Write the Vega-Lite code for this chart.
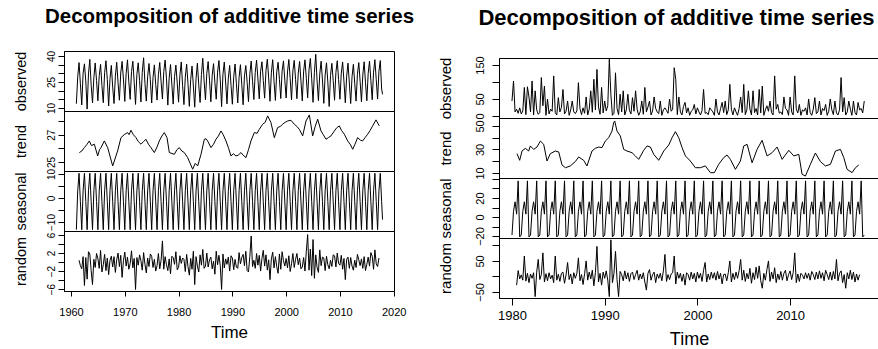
{
"$schema":"https://vega.github.io/schema/vega-lite/v6.json",
"background":"white",
"padding":{"left":12,"top":7,"right":0,"bottom":0},
"datasets":{
"L":[
{"t":1961,"o":12.5,"s":-13.2},{"t":1961.25,"o":28,"s":3},{"t":1961.5,"o":36.2,"s":10.3,"r":0.4},{"t":1961.75,"o":24,"s":-1.5,"r":-0.8},
{"t":1962,"o":11.8,"s":-13.2,"r":-1.5},{"t":1962.25,"o":30.1,"s":3,"r":1.2},{"t":1962.5,"o":35.5,"s":10.3,"r":-5.2},{"t":1962.75,"o":25.6,"s":-1.5,"r":1},
{"t":1963,"o":9.4,"s":-13.2,"r":-3.8},{"t":1963.25,"o":29.6,"s":3,"r":2.3},{"t":1963.5,"o":38.1,"s":10.3,"r":1.8},{"t":1963.75,"o":23.2,"s":-1.5,"r":-1.9},
{"t":1964,"o":13,"s":-13.2,"r":-5},{"t":1964.25,"o":27.5,"s":3,"r":0.6},{"t":1964.5,"o":36,"s":10.3,"r":-1.2},{"t":1964.75,"o":25.9,"s":-1.5,"r":1.9},
{"t":1965,"o":14.2,"s":-13.2,"r":0.8},{"t":1965.25,"o":28.7,"s":3,"r":-1.4},{"t":1965.5,"o":35.2,"s":10.3,"r":2.6},{"t":1965.75,"o":23,"s":-1.5,"r":-2.2},
{"t":1966,"o":13.1,"s":-13.2,"r":-0.6},{"t":1966.25,"o":30.4,"s":3,"r":1.7},{"t":1966.5,"o":37.3,"s":10.3,"r":-1.9},{"t":1966.75,"o":26.4,"s":-1.5,"r":0.9},
{"t":1967,"o":11.2,"s":-13.2,"r":-2.8},{"t":1967.25,"o":26.9,"s":3,"r":0.4},{"t":1967.5,"o":34.6,"s":10.3,"r":1.3},{"t":1967.75,"o":22.1,"s":-1.5,"r":-1.1},
{"t":1968,"o":12.6,"s":-13.2,"r":1.2},{"t":1968.25,"o":28.3,"s":3,"r":-2.3},{"t":1968.5,"o":36.4,"s":10.3,"r":0.5},{"t":1968.75,"o":24.6,"s":-1.5,"r":2},
{"t":1969,"o":14.5,"s":-13.2,"r":-1},{"t":1969.25,"o":30.2,"s":3,"r":1.5},{"t":1969.5,"o":36.9,"s":10.3,"r":-3.4},{"t":1969.75,"o":26.7,"s":-1.5,"r":0.3},
{"t":1970,"o":13.8,"s":-13.2,"r":2.2},{"t":1970.25,"o":29.9,"s":3,"r":-0.9},{"t":1970.5,"o":37.8,"s":10.3,"r":1.1},{"t":1970.75,"o":25.1,"s":-1.5,"r":-1.6},
{"t":1971,"o":15,"s":-13.2,"r":-0.4},{"t":1971.25,"o":31,"s":3,"r":2.5},{"t":1971.5,"o":37,"s":10.3,"r":-1.3},{"t":1971.75,"o":24.9,"s":-1.5,"r":0.8},
{"t":1972,"o":12.1,"s":-13.2,"r":-6.1},{"t":1972.25,"o":29.4,"s":3,"r":1},{"t":1972.5,"o":36.1,"s":10.3,"r":-0.7},{"t":1972.75,"o":25.8,"s":-1.5,"r":1.6},
{"t":1973,"o":13.5,"s":-13.2,"r":0.3},{"t":1973.25,"o":30.6,"s":3,"r":-1.8},{"t":1973.5,"o":39,"s":10.3,"r":2.1},{"t":1973.75,"o":24.2,"s":-1.5,"r":-0.5},
{"t":1974,"o":14,"s":-13.2,"r":-2.4},{"t":1974.25,"o":28.1,"s":3,"r":0.9},{"t":1974.5,"o":35.7,"s":10.3,"r":-1},{"t":1974.75,"o":26.3,"s":-1.5,"r":1.8},
{"t":1975,"o":12.9,"s":-13.2,"r":1.3},{"t":1975.25,"o":27.6,"s":3,"r":-1.2},{"t":1975.5,"o":34.9,"s":10.3,"r":0.6},{"t":1975.75,"o":23.5,"s":-1.5,"r":-2},
{"t":1976,"o":14.6,"s":-13.2,"r":-0.8},{"t":1976.25,"o":29.2,"s":3,"r":1.9},{"t":1976.5,"o":36.3,"s":10.3,"r":-1.5},{"t":1976.75,"o":25.2,"s":-1.5,"r":0.4},
{"t":1977,"o":15.2,"s":-13.2,"r":4.7},{"t":1977.25,"o":31.1,"s":3,"r":-1.6},{"t":1977.5,"o":37.7,"s":10.3,"r":1.2},{"t":1977.75,"o":26.9,"s":-1.5,"r":-0.6},
{"t":1978,"o":11.7,"s":-13.2,"r":-1.9},{"t":1978.25,"o":27.3,"s":3,"r":0.7},{"t":1978.5,"o":35.1,"s":10.3,"r":-2.6},{"t":1978.75,"o":23.8,"s":-1.5,"r":1.3},
{"t":1979,"o":12.3,"s":-13.2,"r":1},{"t":1979.25,"o":28.2,"s":3,"r":-0.5},{"t":1979.5,"o":34.8,"s":10.3,"r":2.3},{"t":1979.75,"o":24.5,"s":-1.5,"r":-1.7},
{"t":1980,"o":13.4,"s":-13.2,"r":-1.2},{"t":1980.25,"o":29,"s":3,"r":1.4},{"t":1980.5,"o":36.6,"s":10.3,"r":-0.3},{"t":1980.75,"o":22.9,"s":-1.5,"r":0.9},
{"t":1981,"o":12,"s":-13.2,"r":0.6},{"t":1981.25,"o":27.8,"s":3,"r":-2.1},{"t":1981.5,"o":35.3,"s":10.3,"r":1.7},{"t":1981.75,"o":24.1,"s":-1.5,"r":-1},
{"t":1982,"o":11,"s":-13.2,"r":-2.9},{"t":1982.25,"o":26.4,"s":3,"r":0.8},{"t":1982.5,"o":34.2,"s":10.3,"r":-1.6},{"t":1982.75,"o":22.7,"s":-1.5,"r":2.4},
{"t":1983,"o":10.5,"s":-13.2,"r":-5},{"t":1983.25,"o":27.1,"s":3,"r":1.2},{"t":1983.5,"o":35.9,"s":10.3,"r":-0.9},{"t":1983.75,"o":23.4,"s":-1.5,"r":-2.2},
{"t":1984,"o":13.2,"s":-13.2,"r":1.6},{"t":1984.25,"o":29.3,"s":3,"r":-0.7},{"t":1984.5,"o":38.7,"s":10.3,"r":2.8},{"t":1984.75,"o":25.5,"s":-1.5,"r":-1.4},
{"t":1985,"o":14.8,"s":-13.2,"r":-0.9},{"t":1985.25,"o":30,"s":3,"r":2},{"t":1985.5,"o":36.8,"s":10.3,"r":-1.1},{"t":1985.75,"o":26,"s":-1.5,"r":0.5},
{"t":1986,"o":13.6,"s":-13.2,"r":1.1},{"t":1986.25,"o":28.9,"s":3,"r":-1.5},{"t":1986.5,"o":35.6,"s":10.3,"r":0.2},{"t":1986.75,"o":24.7,"s":-1.5,"r":-2.7},
{"t":1987,"o":15.1,"s":-13.2,"r":2.4},{"t":1987.25,"o":30.7,"s":3,"r":-0.6},{"t":1987.5,"o":37.4,"s":10.3,"r":1.5},{"t":1987.75,"o":26.2,"s":-1.5,"r":-0.8},
{"t":1988,"o":10.8,"s":-13.2,"r":-6.1},{"t":1988.25,"o":29.5,"s":3,"r":1.8},{"t":1988.5,"o":36.5,"s":10.3,"r":-1.3},{"t":1988.75,"o":25,"s":-1.5,"r":0.7},
{"t":1989,"o":12.4,"s":-13.2,"r":-0.5},{"t":1989.25,"o":27.2,"s":3,"r":1.1},{"t":1989.5,"o":34.6,"s":10.3,"r":-2},{"t":1989.75,"o":23.1,"s":-1.5,"r":1.4},
{"t":1990,"o":12.2,"s":-13.2,"r":0.9},{"t":1990.25,"o":28,"s":3,"r":-1.7},{"t":1990.5,"o":35.4,"s":10.3,"r":0.6},{"t":1990.75,"o":24,"s":-1.5,"r":-1.1},
{"t":1991,"o":12.9,"s":-13.2,"r":-1.4},{"t":1991.25,"o":27.7,"s":3,"r":2.1},{"t":1991.5,"o":35,"s":10.3,"r":-0.4},{"t":1991.75,"o":23.7,"s":-1.5,"r":1},
{"t":1992,"o":11.9,"s":-13.2,"r":1.7},{"t":1992.25,"o":28.6,"s":3,"r":-0.8},{"t":1992.5,"o":34.5,"s":10.3,"r":2.4},{"t":1992.75,"o":24.8,"s":-1.5,"r":-1.9},
{"t":1993,"o":13.7,"s":-13.2,"r":-2.2},{"t":1993.25,"o":29.8,"s":3,"r":1.3},{"t":1993.5,"o":37.1,"s":10.3,"r":5.8},{"t":1993.75,"o":25.4,"s":-1.5,"r":-1},
{"t":1994,"o":14.9,"s":-13.2,"r":0.4},{"t":1994.25,"o":30.5,"s":3,"r":-1.4},{"t":1994.5,"o":37.6,"s":10.3,"r":1.9},{"t":1994.75,"o":26.8,"s":-1.5,"r":-0.7},
{"t":1995,"o":15.3,"s":-13.2,"r":1.5},{"t":1995.25,"o":31.2,"s":3,"r":-2},{"t":1995.5,"o":36.7,"s":10.3,"r":0.8},{"t":1995.75,"o":25.9,"s":-1.5,"r":2.6},
{"t":1996,"o":15.7,"s":-13.2,"r":-0.9},{"t":1996.25,"o":31.6,"s":3,"r":1.6},{"t":1996.5,"o":38.2,"s":10.3,"r":-1.8},{"t":1996.75,"o":27.4,"s":-1.5,"r":0.5},
{"t":1997,"o":13.9,"s":-13.2,"r":-3.9},{"t":1997.25,"o":30.3,"s":3,"r":0.7},{"t":1997.5,"o":37.9,"s":10.3,"r":2.2},{"t":1997.75,"o":25.3,"s":-1.5,"r":-1.3},
{"t":1998,"o":14.4,"s":-13.2,"r":1.2},{"t":1998.25,"o":30.9,"s":3,"r":-1},{"t":1998.5,"o":36.4,"s":10.3,"r":-2.5},{"t":1998.75,"o":26.6,"s":-1.5,"r":1.8},
{"t":1999,"o":15.5,"s":-13.2,"r":-1.6},{"t":1999.25,"o":31.4,"s":3,"r":2.3},{"t":1999.5,"o":37.2,"s":10.3,"r":0.3},{"t":1999.75,"o":26.1,"s":-1.5,"r":-0.9},
{"t":2000,"o":15.8,"s":-13.2,"r":0.8},{"t":2000.25,"o":30.8,"s":3,"r":-1.3},{"t":2000.5,"o":38,"s":10.3,"r":1.4},{"t":2000.75,"o":27,"s":-1.5,"r":-2.1},
{"t":2001,"o":14.7,"s":-13.2,"r":-0.4},{"t":2001.25,"o":31.5,"s":3,"r":1.9},{"t":2001.5,"o":37.5,"s":10.3,"r":-1.2},{"t":2001.75,"o":26.5,"s":-1.5,"r":0.6},
{"t":2002,"o":15.4,"s":-13.2,"r":1.9},{"t":2002.25,"o":30.1,"s":3,"r":-0.6},{"t":2002.5,"o":36.9,"s":10.3,"r":0.9},{"t":2002.75,"o":25.7,"s":-1.5,"r":-1.5},
{"t":2003,"o":14.1,"s":-13.2,"r":-1.1},{"t":2003.25,"o":31.3,"s":3,"r":1},{"t":2003.5,"o":37.8,"s":10.3,"r":-2},{"t":2003.75,"o":27.1,"s":-1.5,"r":2.4},
{"t":2004,"o":15.9,"s":-13.2,"r":6.1},{"t":2004.25,"o":32,"s":3,"r":-1.8},{"t":2004.5,"o":38.6,"s":10.3,"r":2.9},{"t":2004.75,"o":26.9,"s":-1.5,"r":-3},
{"t":2005,"o":13.3,"s":-13.2,"r":5},{"t":2005.25,"o":30.4,"s":3,"r":-3.6},{"t":2005.5,"o":41,"s":10.3,"r":1.6},{"t":2005.75,"o":25.6,"s":-1.5,"r":-1.2},
{"t":2006,"o":14.3,"s":-13.2,"r":-2.3},{"t":2006.25,"o":29.7,"s":3,"r":2.7},{"t":2006.5,"o":37,"s":10.3,"r":-0.8},{"t":2006.75,"o":26.2,"s":-1.5,"r":1.1},
{"t":2007,"o":12.7,"s":-13.2,"r":0.9},{"t":2007.25,"o":29.1,"s":3,"r":-1.9},{"t":2007.5,"o":36.1,"s":10.3,"r":1.3},{"t":2007.75,"o":24.9,"s":-1.5,"r":-0.6},
{"t":2008,"o":10.9,"s":-13.2,"r":-1.5},{"t":2008.25,"o":28.8,"s":3,"r":0.4},{"t":2008.5,"o":35.8,"s":10.3,"r":-1},{"t":2008.75,"o":25.8,"s":-1.5,"r":1.6},
{"t":2009,"o":14.5,"s":-13.2,"r":1.4},{"t":2009.25,"o":30.6,"s":3,"r":-1.1},{"t":2009.5,"o":37.3,"s":10.3,"r":2},{"t":2009.75,"o":26.4,"s":-1.5,"r":-0.3},
{"t":2010,"o":15.1,"s":-13.2,"r":-0.7},{"t":2010.25,"o":30.2,"s":3,"r":1.5},{"t":2010.5,"o":36.6,"s":10.3,"r":-1.6},{"t":2010.75,"o":25.2,"s":-1.5,"r":0.8},
{"t":2011,"o":13,"s":-13.2,"r":-3.9},{"t":2011.25,"o":28.4,"s":3,"r":0.6},{"t":2011.5,"o":35.9,"s":10.3,"r":1.1},{"t":2011.75,"o":24.4,"s":-1.5,"r":-1.4},
{"t":2012,"o":12.6,"s":-13.2,"r":1},{"t":2012.25,"o":28.1,"s":3,"r":-0.9},{"t":2012.5,"o":35.2,"s":10.3,"r":-1.8},{"t":2012.75,"o":24.2,"s":-1.5,"r":0.4},
{"t":2013,"o":14,"s":-13.2,"r":-1.2},{"t":2013.25,"o":29.5,"s":3,"r":1.7},{"t":2013.5,"o":36.2,"s":10.3,"r":0.5},{"t":2013.75,"o":25.5,"s":-1.5,"r":-0.8},
{"t":2014,"o":13.6,"s":-13.2,"r":0.7},{"t":2014.25,"o":29,"s":3,"r":-1.4},{"t":2014.5,"o":36.7,"s":10.3,"r":1.2},{"t":2014.75,"o":24.6,"s":-1.5,"r":-1.9},
{"t":2015,"o":14.2,"s":-13.2,"r":-0.5},{"t":2015.25,"o":30,"s":3,"r":1.1},{"t":2015.5,"o":37.1,"s":10.3,"r":-0.9},{"t":2015.75,"o":25.8,"s":-1.5,"r":2.1},
{"t":2016,"o":14.8,"s":-13.2,"r":1.3},{"t":2016.25,"o":30.7,"s":3,"r":-1.6},{"t":2016.5,"o":37.9,"s":10.3,"r":2.7},{"t":2016.75,"o":26.3,"s":-1.5,"r":-0.4},
{"t":2017,"o":15.2,"s":-13.2,"r":-1},{"t":2017.25,"o":31.3,"s":3,"r":0.9},{"t":2017.5,"o":37.4,"s":10.3},{"t":2017.75,"o":21,"s":-1.5},
{"t":2017.92,"o":17.9,"s":-9}
],
"LT":[
{"t":1961.55,"v":25.69},{"t":1962.0,"v":25.8},{"t":1962.48,"v":26.05},{"t":1963.0,"v":26.3},{"t":1963.41,"v":26.54},{"t":1963.8,"v":26.2},{"t":1964.34,"v":26.3},{"t":1964.96,"v":25.44},{"t":1965.3,"v":25.9},{"t":1965.58,"v":26.05},{"t":1966.2,"v":26.54},{"t":1966.82,"v":26.05},{"t":1967.75,"v":24.71},{"t":1968.67,"v":25.81},{"t":1969.29,"v":26.78},{"t":1969.9,"v":27.0},{"t":1970.53,"v":27.15},{"t":1970.8,"v":27.0},{"t":1971.15,"v":27.32},{"t":1971.6,"v":27.0},{"t":1972.08,"v":26.78},{"t":1972.5,"v":26.5},{"t":1973.01,"v":26.3},{"t":1973.5,"v":26.5},{"t":1973.94,"v":26.66},{"t":1974.4,"v":26.3},{"t":1974.87,"v":26.05},{"t":1975.49,"v":25.69},{"t":1976.0,"v":26.1},{"t":1976.42,"v":26.54},{"t":1976.9,"v":26.9},{"t":1977.35,"v":27.15},{"t":1977.85,"v":26.78},{"t":1978.28,"v":25.69},{"t":1979.21,"v":25.56},{"t":1979.7,"v":25.9},{"t":1980.14,"v":26.05},{"t":1980.6,"v":25.8},{"t":1981.07,"v":25.69},{"t":1981.69,"v":25.32},{"t":1982.62,"v":24.47},{"t":1983.1,"v":24.9},{"t":1983.55,"v":24.71},{"t":1984.17,"v":25.56},{"t":1984.79,"v":26.66},{"t":1985.1,"v":26.7},{"t":1985.4,"v":26.54},{"t":1986.02,"v":26.05},{"t":1986.5,"v":26.3},{"t":1986.95,"v":26.66},{"t":1987.4,"v":26.9},{"t":1987.88,"v":27.27},{"t":1988.3,"v":27.0},{"t":1988.81,"v":26.54},{"t":1989.3,"v":26.0},{"t":1989.74,"v":25.44},{"t":1990.2,"v":25.6},{"t":1990.67,"v":25.44},{"t":1991.1,"v":25.5},{"t":1991.6,"v":25.69},{"t":1992.0,"v":25.5},{"t":1992.53,"v":25.32},{"t":1993.0,"v":25.9},{"t":1993.46,"v":26.54},{"t":1994.08,"v":27.15},{"t":1994.6,"v":27.1},{"t":1995.01,"v":27.39},{"t":1995.63,"v":27.76},{"t":1996.1,"v":27.9},{"t":1996.56,"v":28.37},{"t":1997.18,"v":27.88},{"t":1997.8,"v":26.78},{"t":1998.42,"v":27.52},{"t":1998.9,"v":27.6},{"t":1999.35,"v":27.76},{"t":1999.8,"v":27.9},{"t":2000.28,"v":28.0},{"t":2000.9,"v":28.05},{"t":2001.52,"v":27.76},{"t":2002.0,"v":27.6},{"t":2002.45,"v":27.39},{"t":2003.07,"v":26.91},{"t":2003.69,"v":28.0},{"t":2004.31,"v":28.44},{"t":2004.93,"v":26.91},{"t":2005.4,"v":27.6},{"t":2005.86,"v":28.13},{"t":2006.48,"v":27.27},{"t":2006.9,"v":27.0},{"t":2007.41,"v":26.66},{"t":2007.9,"v":26.8},{"t":2008.34,"v":26.91},{"t":2008.96,"v":27.27},{"t":2009.4,"v":27.5},{"t":2009.89,"v":27.64},{"t":2010.3,"v":27.3},{"t":2010.82,"v":27.03},{"t":2011.44,"v":26.54},{"t":2011.9,"v":26.3},{"t":2012.37,"v":25.93},{"t":2012.8,"v":26.3},{"t":2013.29,"v":26.78},{"t":2013.8,"v":26.6},{"t":2014.22,"v":26.54},{"t":2014.7,"v":26.8},{"t":2015.15,"v":27.03},{"t":2015.6,"v":27.3},{"t":2016.08,"v":27.64},{"t":2016.7,"v":28.08},{"t":2017.32,"v":27.64}
],
"R":[
{"t":1980,"o":44,"s":-19},{"t":1980.167,"o":103,"s":6},{"t":1980.333,"o":12,"s":16},{"t":1980.5,"o":20,"s":3,"r":-28},{"t":1980.667,"o":8,"s":38,"r":19},{"t":1980.833,"o":24,"s":-21,"r":-8},
{"t":1981,"o":6,"s":-19,"r":5},{"t":1981.167,"o":15,"s":6,"r":-12},{"t":1981.333,"o":84,"s":16,"r":66},{"t":1981.5,"o":4,"s":3,"r":-15},{"t":1981.667,"o":86,"s":38,"r":10},{"t":1981.833,"o":56,"s":-21,"r":-20},
{"t":1982,"o":12,"s":-19,"r":8},{"t":1982.167,"o":103,"s":6,"r":-6},{"t":1982.333,"o":3,"s":16,"r":12},{"t":1982.5,"o":74,"s":3,"r":-65},{"t":1982.667,"o":18,"s":38,"r":14},{"t":1982.833,"o":5,"s":-21,"r":55},
{"t":1983,"o":10,"s":-19,"r":-10},{"t":1983.167,"o":113,"s":6,"r":6},{"t":1983.333,"o":30,"s":16,"r":76},{"t":1983.5,"o":88,"s":3,"r":-18},{"t":1983.667,"o":2,"s":38,"r":9},{"t":1983.833,"o":50,"s":-21,"r":-14},
{"t":1984,"o":6,"s":-19,"r":12},{"t":1984.167,"o":20,"s":6,"r":-8},{"t":1984.333,"o":14,"s":16,"r":4},{"t":1984.5,"o":118,"s":3,"r":-20},{"t":1984.667,"o":10,"s":38,"r":66},{"t":1984.833,"o":3,"s":-21,"r":-12},
{"t":1985,"o":54,"s":-19,"r":7},{"t":1985.167,"o":12,"s":6,"r":-16},{"t":1985.333,"o":25,"s":16,"r":10},{"t":1985.5,"o":78,"s":3,"r":14},{"t":1985.667,"o":6,"s":38,"r":-22},{"t":1985.833,"o":14,"s":-21,"r":5},
{"t":1986,"o":44,"s":-19,"r":45},{"t":1986.167,"o":2,"s":6,"r":-10},{"t":1986.333,"o":18,"s":16,"r":8},{"t":1986.5,"o":44,"s":3,"r":-24},{"t":1986.667,"o":12,"s":38,"r":12},{"t":1986.833,"o":7,"s":-21,"r":-6},
{"t":1987,"o":15,"s":-19,"r":10},{"t":1987.167,"o":98,"s":6,"r":60},{"t":1987.333,"o":22,"s":16,"r":-14},{"t":1987.5,"o":4,"s":3,"r":6},{"t":1987.667,"o":24,"s":38,"r":-26},{"t":1987.833,"o":8,"s":-21,"r":9},
{"t":1988,"o":56,"s":-19,"r":50},{"t":1988.167,"o":3,"s":6,"r":-12},{"t":1988.333,"o":20,"s":16,"r":14},{"t":1988.5,"o":74,"s":3,"r":-8},{"t":1988.667,"o":11,"s":38,"r":20},{"t":1988.833,"o":108,"s":-21,"r":-30},
{"t":1989,"o":18,"s":-19,"r":12},{"t":1989.167,"o":137,"s":6,"r":97},{"t":1989.333,"o":26,"s":16,"r":-18},{"t":1989.5,"o":5,"s":3,"r":10},{"t":1989.667,"o":84,"s":38,"r":-28},{"t":1989.833,"o":9,"s":-21,"r":14},
{"t":1990,"o":44,"s":-19,"r":-6},{"t":1990.167,"o":15,"s":6,"r":18},{"t":1990.333,"o":30,"s":16,"r":-12},{"t":1990.5,"o":167,"s":3,"r":-65},{"t":1990.667,"o":64,"s":38,"r":118},{"t":1990.833,"o":2,"s":-21,"r":-20},
{"t":1991,"o":8,"s":-19,"r":10},{"t":1991.167,"o":127,"s":6,"r":81},{"t":1991.333,"o":22,"s":16,"r":-10},{"t":1991.5,"o":4,"s":3,"r":-65},{"t":1991.667,"o":64,"s":38,"r":16},{"t":1991.833,"o":12,"s":-21,"r":6},
{"t":1992,"o":74,"s":-19,"r":-14},{"t":1992.167,"o":3,"s":6,"r":18},{"t":1992.333,"o":18,"s":16,"r":-8},{"t":1992.5,"o":64,"s":3,"r":12},{"t":1992.667,"o":16,"s":38,"r":-16},{"t":1992.833,"o":6,"s":-21,"r":9},
{"t":1993,"o":54,"s":-19,"r":14},{"t":1993.167,"o":14,"s":6,"r":-10},{"t":1993.333,"o":74,"s":16,"r":6},{"t":1993.5,"o":20,"s":3,"r":20},{"t":1993.667,"o":2,"s":38,"r":-12},{"t":1993.833,"o":12,"s":-21,"r":8},
{"t":1994,"o":44,"s":-19,"r":-8},{"t":1994.167,"o":5,"s":6,"r":12},{"t":1994.333,"o":84,"s":16,"r":-18},{"t":1994.5,"o":12,"s":3,"r":-44},{"t":1994.667,"o":26,"s":38,"r":10},{"t":1994.833,"o":44,"s":-21,"r":22},
{"t":1995,"o":3,"s":-19,"r":-12},{"t":1995.167,"o":15,"s":6,"r":6},{"t":1995.333,"o":56,"s":16,"r":14},{"t":1995.5,"o":22,"s":3,"r":-20},{"t":1995.667,"o":12,"s":38,"r":8},{"t":1995.833,"o":7,"s":-21,"r":-6},
{"t":1996,"o":44,"s":-19,"r":10},{"t":1996.167,"o":2,"s":6,"r":-14},{"t":1996.333,"o":18,"s":16,"r":18},{"t":1996.5,"o":24,"s":3,"r":71},{"t":1996.667,"o":16,"s":38,"r":-16},{"t":1996.833,"o":8,"s":-21,"r":6},
{"t":1997,"o":50,"s":-19,"r":-10},{"t":1997.167,"o":14,"s":6,"r":8},{"t":1997.333,"o":20,"s":16,"r":12},{"t":1997.5,"o":142,"s":3,"r":66},{"t":1997.667,"o":108,"s":38,"r":-24},{"t":1997.833,"o":4,"s":-21,"r":14},
{"t":1998,"o":56,"s":-19,"r":-6},{"t":1998.167,"o":12,"s":6,"r":10},{"t":1998.333,"o":3,"s":16,"r":-16},{"t":1998.5,"o":28,"s":3,"r":8},{"t":1998.667,"o":40,"s":38,"r":-28},{"t":1998.833,"o":9,"s":-21,"r":12},
{"t":1999,"o":24,"s":-19,"r":6},{"t":1999.167,"o":2,"s":6,"r":-12},{"t":1999.333,"o":14,"s":16,"r":14},{"t":1999.5,"o":18,"s":3,"r":-8},{"t":1999.667,"o":34,"s":38,"r":10},{"t":1999.833,"o":6,"s":-21,"r":-18},
{"t":2000,"o":24,"s":-19,"r":14},{"t":2000.167,"o":12,"s":6,"r":-6},{"t":2000.333,"o":3,"s":16,"r":10},{"t":2000.5,"o":16,"s":3,"r":-16},{"t":2000.667,"o":78,"s":38,"r":20},{"t":2000.833,"o":8,"s":-21,"r":45},
{"t":2001,"o":10,"s":-19,"r":-18},{"t":2001.167,"o":4,"s":6,"r":8},{"t":2001.333,"o":24,"s":16,"r":-10},{"t":2001.5,"o":18,"s":3,"r":14},{"t":2001.667,"o":12,"s":38,"r":-6},{"t":2001.833,"o":2,"s":-21,"r":12},
{"t":2002,"o":50,"s":-19,"r":-12},{"t":2002.167,"o":12,"s":6,"r":16},{"t":2002.333,"o":3,"s":16,"r":-8},{"t":2002.5,"o":22,"s":3,"r":10},{"t":2002.667,"o":40,"s":38,"r":-24},{"t":2002.833,"o":10,"s":-21,"r":6},
{"t":2003,"o":44,"s":-19,"r":8},{"t":2003.167,"o":4,"s":6,"r":-14},{"t":2003.333,"o":18,"s":16,"r":12},{"t":2003.5,"o":93,"s":3,"r":50},{"t":2003.667,"o":20,"s":38,"r":-18},{"t":2003.833,"o":3,"s":-21,"r":10},
{"t":2004,"o":24,"s":-19,"r":-10},{"t":2004.167,"o":12,"s":6,"r":14},{"t":2004.333,"o":2,"s":16,"r":-6},{"t":2004.5,"o":22,"s":3,"r":18},{"t":2004.667,"o":56,"s":38,"r":55},{"t":2004.833,"o":10,"s":-21,"r":-12},
{"t":2005,"o":93,"s":-19,"r":20},{"t":2005.167,"o":4,"s":6,"r":-16},{"t":2005.333,"o":18,"s":16,"r":10},{"t":2005.5,"o":74,"s":3,"r":-8},{"t":2005.667,"o":20,"s":38,"r":26},{"t":2005.833,"o":3,"s":-21,"r":-22},
{"t":2006,"o":74,"s":-19,"r":12},{"t":2006.167,"o":10,"s":6,"r":-10},{"t":2006.333,"o":22,"s":16,"r":30},{"t":2006.5,"o":3,"s":3,"r":-6},{"t":2006.667,"o":78,"s":38,"r":34},{"t":2006.833,"o":9,"s":-21,"r":-14},
{"t":2007,"o":88,"s":-19,"r":-38},{"t":2007.167,"o":2,"s":6,"r":10},{"t":2007.333,"o":18,"s":16,"r":-12},{"t":2007.5,"o":30,"s":3,"r":22},{"t":2007.667,"o":14,"s":38,"r":50},{"t":2007.833,"o":44,"s":-21,"r":-16},
{"t":2008,"o":10,"s":-19,"r":14},{"t":2008.167,"o":3,"s":6,"r":-8},{"t":2008.333,"o":118,"s":16,"r":28},{"t":2008.5,"o":20,"s":3,"r":-20},{"t":2008.667,"o":34,"s":38,"r":8},{"t":2008.833,"o":8,"s":-21,"r":-10},
{"t":2009,"o":12,"s":-19,"r":16},{"t":2009.167,"o":4,"s":6,"r":-12},{"t":2009.333,"o":56,"s":16,"r":10},{"t":2009.5,"o":22,"s":3,"r":20},{"t":2009.667,"o":18,"s":38,"r":-14},{"t":2009.833,"o":2,"s":-21,"r":6},
{"t":2010,"o":56,"s":-19,"r":18},{"t":2010.167,"o":12,"s":6,"r":-10},{"t":2010.333,"o":3,"s":16,"r":12},{"t":2010.5,"o":118,"s":3,"r":76},{"t":2010.667,"o":20,"s":38,"r":-20},{"t":2010.833,"o":9,"s":-21,"r":8},
{"t":2011,"o":34,"s":-19,"r":-16},{"t":2011.167,"o":2,"s":6,"r":10},{"t":2011.333,"o":18,"s":16,"r":4},{"t":2011.5,"o":14,"s":3,"r":-8},{"t":2011.667,"o":24,"s":38,"r":12},{"t":2011.833,"o":3,"s":-21,"r":-6},
{"t":2012,"o":50,"s":-19,"r":10},{"t":2012.167,"o":10,"s":6,"r":-12},{"t":2012.333,"o":2,"s":16,"r":16},{"t":2012.5,"o":20,"s":3,"r":6},{"t":2012.667,"o":54,"s":38,"r":-10},{"t":2012.833,"o":7,"s":-21,"r":14},
{"t":2013,"o":12,"s":-19,"r":-8},{"t":2013.167,"o":44,"s":6,"r":18},{"t":2013.333,"o":3,"s":16,"r":-6},{"t":2013.5,"o":22,"s":3,"r":12},{"t":2013.667,"o":16,"s":38,"r":-14},{"t":2013.833,"o":34,"s":-21,"r":20},
{"t":2014,"o":2,"s":-19,"r":6},{"t":2014.167,"o":14,"s":6,"r":-10},{"t":2014.333,"o":50,"s":16,"r":14},{"t":2014.5,"o":18,"s":3,"r":-12},{"t":2014.667,"o":4,"s":38,"r":16},{"t":2014.833,"o":44,"s":-21,"r":-8},
{"t":2015,"o":9,"s":-19,"r":55},{"t":2015.167,"o":3,"s":6,"r":-14},{"t":2015.333,"o":18,"s":16,"r":10},{"t":2015.5,"o":113,"s":3,"r":18},{"t":2015.667,"o":12,"s":38,"r":-20},{"t":2015.833,"o":54,"s":-21,"r":6},
{"t":2016,"o":3,"s":-19,"r":-38},{"t":2016.167,"o":12,"s":6,"r":12},{"t":2016.333,"o":44,"s":16,"r":-8},{"t":2016.5,"o":20,"s":3,"r":20},{"t":2016.667,"o":2,"s":38,"r":-10},{"t":2016.833,"o":44,"s":-21,"r":14},
{"t":2017,"o":10,"s":-19,"r":-18},{"t":2017.167,"o":3,"s":6,"r":8},{"t":2017.333,"o":40,"s":16,"r":-12},{"t":2017.5,"o":18,"s":3,"r":6},{"t":2017.667,"o":22,"s":38},{"t":2017.833,"o":9,"s":-21},
{"t":2018,"o":44,"s":-19}
],
"RT":[
{"t":1980.54,"v":26.5},{"t":1980.83,"v":20.8},{"t":1981.08,"v":28.7},{"t":1981.44,"v":31},{"t":1981.8,"v":28.7},{"t":1981.98,"v":33},{"t":1982.34,"v":30.1},{"t":1982.7,"v":32.1},{"t":1983.06,"v":37.2},{"t":1983.42,"v":34.4},{"t":1983.78,"v":20.2},{"t":1984.14,"v":26.5},{"t":1984.68,"v":28.7},{"t":1985.04,"v":27.9},{"t":1985.4,"v":16.8},{"t":1985.76,"v":14.5},{"t":1986.29,"v":16},{"t":1986.83,"v":19.7},{"t":1987.19,"v":23.6},{"t":1987.73,"v":20.8},{"t":1988.09,"v":16},{"t":1988.63,"v":28.7},{"t":1988.99,"v":31},{"t":1989.35,"v":32.1},{"t":1989.71,"v":31.6},{"t":1990.07,"v":37.2},{"t":1990.43,"v":40},{"t":1990.79,"v":45.7},{"t":1990.97,"v":52.8},{"t":1991.08,"v":54.3},{"t":1991.33,"v":45.7},{"t":1991.69,"v":41.5},{"t":1992.05,"v":30.1},{"t":1992.41,"v":28.7},{"t":1992.95,"v":27.3},{"t":1993.31,"v":24.5},{"t":1993.67,"v":21.6},{"t":1994.21,"v":29.3},{"t":1994.57,"v":33},{"t":1994.93,"v":32.1},{"t":1995.29,"v":25.9},{"t":1995.83,"v":20.8},{"t":1996.37,"v":28.7},{"t":1996.91,"v":33.8},{"t":1997.27,"v":40},{"t":1997.63,"v":45.2},{"t":1997.99,"v":40},{"t":1998.35,"v":31.6},{"t":1998.71,"v":24.5},{"t":1999.24,"v":20.2},{"t":1999.78,"v":14.5},{"t":2000.32,"v":14.5},{"t":2000.86,"v":16},{"t":2001.4,"v":10.3},{"t":2001.83,"v":10.3},{"t":2002.3,"v":17.4},{"t":2002.84,"v":23.1},{"t":2003.2,"v":25.3},{"t":2003.56,"v":21.6},{"t":2004.1,"v":13.1},{"t":2004.64,"v":20.2},{"t":2005,"v":33},{"t":2005.36,"v":34.4},{"t":2005.9,"v":18.7},{"t":2006.44,"v":30.1},{"t":2006.98,"v":37.8},{"t":2007.52,"v":24.5},{"t":2008.06,"v":27.3},{"t":2008.6,"v":32.1},{"t":2009.14,"v":21.6},{"t":2009.86,"v":29.3},{"t":2010.4,"v":24.5},{"t":2010.94,"v":25.9},{"t":2011.29,"v":8.9},{"t":2011.65,"v":7.4},{"t":2012.19,"v":17.4},{"t":2012.73,"v":27},{"t":2013.27,"v":19.7},{"t":2013.81,"v":16},{"t":2014.35,"v":17.4},{"t":2014.89,"v":28.7},{"t":2015.43,"v":30.1},{"t":2015.79,"v":23.1},{"t":2016.15,"v":13.1},{"t":2016.69,"v":10.3},{"t":2017.05,"v":14.5},{"t":2017.41,"v":16.8}
]
},
"hconcat":[
{
"title":{"text":"Decomposition of additive time series","fontSize":20.5,"offset":22,"dx":20},
"bounds":"flush","spacing":0,
"vconcat":[
{"width":330,"height":60,"data":{"name":"L"},"mark":{"type":"line","color":"black","strokeWidth":1,"clip":true},
"encoding":{"x":{"field":"t","type":"quantitative","scale":{"domain":[1958.7,2020.05],"nice":false,"zero":false},"axis":null},
"y":{"field":"o","type":"quantitative","scale":{"domain":[8.3,42.9],"nice":false,"zero":false},"axis":{"title":"observed","values":[10,15,20,25,30,35,40],"labelExpr":"indexof([10,25,40], datum.value) >= 0 ? datum.label : ''","tickSize":6,"labelPadding":2,"labelFontSize":10,"titleFontSize":14.5,"titlePadding":18}}}},
{"width":330,"height":60,"data":{"name":"LT"},"mark":{"type":"line","color":"black","strokeWidth":1,"clip":true},
"encoding":{"x":{"field":"t","type":"quantitative","scale":{"domain":[1958.7,2020.05],"nice":false,"zero":false},"axis":null},
"y":{"field":"v","type":"quantitative","scale":{"domain":[24.34,28.73],"nice":false,"zero":false},"axis":{"title":"trend","values":[25,26,27,28],"labelExpr":"indexof([25,27], datum.value) >= 0 ? datum.label : ''","tickSize":6,"labelPadding":2,"labelFontSize":10,"titleFontSize":14.5,"titlePadding":18}}}},
{"width":330,"height":60,"data":{"name":"L"},"mark":{"type":"line","color":"black","strokeWidth":1,"clip":true},
"encoding":{"x":{"field":"t","type":"quantitative","scale":{"domain":[1958.7,2020.05],"nice":false,"zero":false},"axis":null},
"y":{"field":"s","type":"quantitative","scale":{"domain":[-13.75,11.25],"nice":false,"zero":false},"axis":{"title":"seasonal","values":[-10,-5,0,5,10],"labelExpr":"indexof([-10,0,10], datum.value) >= 0 ? datum.label : ''","tickSize":6,"labelPadding":2,"labelFontSize":10,"titleFontSize":14.5,"titlePadding":18}}}},
{"width":330,"height":60,"data":{"name":"L"},"mark":{"type":"line","color":"black","strokeWidth":1,"clip":true},
"encoding":{"x":{"field":"t","type":"quantitative","scale":{"domain":[1958.7,2020.05],"nice":false,"zero":false},"axis":{"title":"Time","values":[1960,1970,1980,1990,2000,2010,2020],"format":"d","tickSize":5,"labelFontSize":11,"labelPadding":10,"titleFontSize":17,"titlePadding":7}},
"y":{"field":"r","type":"quantitative","scale":{"domain":[-6.43,6.9],"nice":false,"zero":false},"axis":{"title":"random","values":[-6,-4,-2,0,2,4,6],"labelExpr":"indexof([-6,-2,2,6], datum.value) >= 0 ? datum.label : ''","tickSize":6,"labelPadding":2,"labelFontSize":10,"titleFontSize":14.5,"titlePadding":18}}}}
]
},
{
"title":{"text":"Decomposition of additive time series","fontSize":22,"offset":21,"dx":18},
"bounds":"flush","spacing":0,
"vconcat":[
{"width":380,"height":7,"data":{"values":[]},"mark":"point","view":{"stroke":null}},
{"width":380,"height":60,"data":{"name":"R"},"mark":{"type":"line","color":"black","strokeWidth":1,"clip":true},
"encoding":{"x":{"field":"t","type":"quantitative","scale":{"domain":[1978.6,2019.59],"nice":false,"zero":false},"axis":null},
"y":{"field":"o","type":"quantitative","scale":{"domain":[-5.9,170.6],"nice":false,"zero":false},"axis":{"title":"observed","values":[0,50,100,150],"labelExpr":"indexof([0,50,150], datum.value) >= 0 ? datum.label : ''","tickSize":7,"labelPadding":7,"labelFontSize":11,"titleFontSize":15,"titlePadding":21}}}},
{"width":380,"height":60,"data":{"name":"RT"},"mark":{"type":"line","color":"black","strokeWidth":1,"clip":true},
"encoding":{"x":{"field":"t","type":"quantitative","scale":{"domain":[1978.6,2019.59],"nice":false,"zero":false},"axis":null},
"y":{"field":"v","type":"quantitative","scale":{"domain":[5.74,56.8],"nice":false,"zero":false},"axis":{"title":"trend","values":[10,20,30,40,50],"labelExpr":"indexof([10,30,50], datum.value) >= 0 ? datum.label : ''","tickSize":7,"labelPadding":7,"labelFontSize":11,"titleFontSize":15,"titlePadding":21}}}},
{"width":380,"height":60,"data":{"name":"R"},"mark":{"type":"line","color":"black","strokeWidth":1,"clip":true},
"encoding":{"x":{"field":"t","type":"quantitative","scale":{"domain":[1978.6,2019.59],"nice":false,"zero":false},"axis":null},
"y":{"field":"s","type":"quantitative","scale":{"domain":[-22.1,41.05],"nice":false,"zero":false},"axis":{"title":"seasonal","values":[-20,-10,0,10,20,30,40],"labelExpr":"indexof([-20,0,20], datum.value) >= 0 ? datum.label : ''","tickSize":7,"labelPadding":7,"labelFontSize":11,"titleFontSize":15,"titlePadding":21}}}},
{"width":380,"height":60,"data":{"name":"R"},"mark":{"type":"line","color":"black","strokeWidth":1,"clip":true},
"encoding":{"x":{"field":"t","type":"quantitative","scale":{"domain":[1978.6,2019.59],"nice":false,"zero":false},"axis":{"title":"Time","values":[1980,1990,2000,2010],"format":"d","tickSize":7,"labelFontSize":13,"labelPadding":4,"titleFontSize":18,"titlePadding":8}},
"y":{"field":"r","type":"quantitative","scale":{"domain":[-69.5,124],"nice":false,"zero":false},"axis":{"title":"random","values":[-50,0,50,100],"labelExpr":"indexof([-50,50], datum.value) >= 0 ? datum.label : ''","tickSize":7,"labelPadding":7,"labelFontSize":11,"titleFontSize":15,"titlePadding":21}}}}
]
}
],
"spacing":22,
"config":{
"view":{"stroke":"black","strokeWidth":1},
"font":"Liberation Sans",
"axis":{"grid":false,"domainColor":"black","tickColor":"black","labelColor":"black","titleColor":"black","labelFont":"Liberation Sans","titleFont":"Liberation Sans","titleFontWeight":"normal","labelFlush":false,"labelOverlap":false,"labelBound":false},
"axisY":{"labelAngle":270,"labelAlign":"center","labelBaseline":"bottom"},
"title":{"font":"Liberation Sans","fontWeight":"bold","color":"black","anchor":"middle"}
}
}
